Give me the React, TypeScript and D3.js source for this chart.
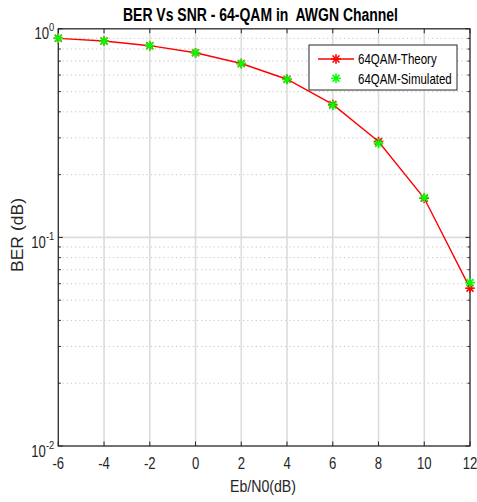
import React from "react";
import * as d3 from "d3";

const snr = [-6, -4, -2, 0, 2, 4, 6, 8, 10, 12];
const theory = [0.9, 0.874, 0.83, 0.768, 0.682, 0.573, 0.434, 0.288, 0.154, 0.0571];
const simulated = [0.901, 0.873, 0.829, 0.767, 0.68, 0.572, 0.43, 0.282, 0.155, 0.0607];
const xTicks = [-6, -4, -2, 0, 2, 4, 6, 8, 10, 12];
const yTicks = [0.01, 0.1, 1];
const yTickExp = ["-2", "-1", "0"];
const seriesNames = ["64QAM-Theory", "64QAM-Simulated"];

const W = 477, H = 502;
const L = 58.3, R = 470, T = 28.8, B = 446;
const FONT = "'Liberation Sans', Arial, Helvetica, sans-serif";
const AX = "#262626";

function Star({ x, y, color, r = 4.8, sw = 1.6 }: { x: number; y: number; color: string; r?: number; sw?: number }) {
  const d = r * 0.72;
  return (
    <g stroke={color} strokeWidth={sw}>
      <line x1={x - r} y1={y} x2={x + r} y2={y} />
      <line x1={x} y1={y - r} x2={x} y2={y + r} />
      <line x1={x - d} y1={y - d} x2={x + d} y2={y + d} />
      <line x1={x - d} y1={y + d} x2={x + d} y2={y - d} />
    </g>
  );
}

export default function App() {
  const x = d3.scaleLinear().domain([-6, 12]).range([L, R]);
  const y = d3.scaleLog().domain([0.01, 1]).range([B, T]);
  const minors: number[] = [];
  [0.01, 0.1].forEach((dec) => {
    for (let k = 2; k <= 9; k++) minors.push(dec * k);
  });
  const line = d3
    .line<number>()
    .x((_, i) => x(snr[i]))
    .y((d) => y(d));
  const sx = 0.82;

  return (
    <svg width={W} height={H} style={{ position: "absolute", left: 0, top: 0, background: "#fff" }}>
      <rect x={0} y={0} width={W} height={H} fill="#fff" />
      {minors.map((v, i) => (
        <line key={"mg" + i} x1={L} x2={R} y1={y(v)} y2={y(v)} stroke="#c4c4c4" strokeWidth={1} strokeDasharray="1.2,3" />
      ))}
      {xTicks.map((t, i) => (
        <line key={"vg" + i} x1={x(t)} x2={x(t)} y1={T} y2={B} stroke="#dcdcdc" strokeWidth={1.6} />
      ))}
      {yTicks.map((t, i) => (
        <line key={"hg" + i} x1={L} x2={R} y1={y(t)} y2={y(t)} stroke="#dcdcdc" strokeWidth={1.6} />
      ))}
      <rect x={L} y={T} width={R - L} height={B - T} fill="none" stroke={AX} strokeWidth={1.2} />
      {xTicks.map((t, i) => (
        <g key={"xt" + i} stroke={AX} strokeWidth={1}>
          <line x1={x(t)} x2={x(t)} y1={B} y2={B - 4.5} />
          <line x1={x(t)} x2={x(t)} y1={T} y2={T + 4.5} />
        </g>
      ))}
      {yTicks.map((t, i) => (
        <g key={"yt" + i} stroke={AX} strokeWidth={1}>
          <line x1={L} x2={L + 4.5} y1={y(t)} y2={y(t)} />
          <line x1={R} x2={R - 4.5} y1={y(t)} y2={y(t)} />
        </g>
      ))}
      {minors.map((v, i) => (
        <g key={"ymt" + i} stroke={AX} strokeWidth={1}>
          <line x1={L} x2={L + 2.5} y1={y(v)} y2={y(v)} />
          <line x1={R} x2={R - 2.5} y1={y(v)} y2={y(v)} />
        </g>
      ))}
      {xTicks.map((t, i) => (
        <g key={"xl" + i} transform={`translate(${x(t)},469) scale(${sx},1)`}>
          <text textAnchor="middle" fontFamily={FONT} fontSize={16} fill={AX}>
            {t}
          </text>
        </g>
      ))}
      {yTicks.map((t, i) => (
        <g key={"yl" + i} transform={`translate(${L - 4},${y(t) + 10.5}) scale(${sx},1)`}>
          <text textAnchor="end" fontFamily={FONT} fontSize={16} fill={AX}>
            10
            <tspan fontSize={11.5} dy={-8}>
              {yTickExp[i]}
            </tspan>
          </text>
        </g>
      ))}
      <text x={123} y={20.7} fontFamily={FONT} fontWeight="bold" fontSize={18} fill="#000" textLength={275} lengthAdjust="spacingAndGlyphs" xmlSpace="preserve">
        {"BER Vs SNR - 64-QAM in  AWGN Channel"}
      </text>
      <text x={230} y={492} fontFamily={FONT} fontSize={16} fill={AX} textLength={66} lengthAdjust="spacingAndGlyphs">
        Eb/N0(dB)
      </text>
      <g transform={`translate(23.3,${235 + 37}) rotate(-90)`}>
        <text x={0} y={0} fontFamily={FONT} fontSize={16} fill={AX} textLength={74} lengthAdjust="spacingAndGlyphs">
          BER (dB)
        </text>
      </g>
      <path d={line(theory) || ""} fill="none" stroke="#ff0000" strokeWidth={1.4} />
      {theory.map((v, i) => (
        <Star key={"th" + i} x={x(snr[i])} y={y(v)} color="#ff0000" />
      ))}
      {simulated.map((v, i) => (
        <Star key={"sm" + i} x={x(snr[i])} y={y(v)} color="#00ff00" />
      ))}
      <rect x={309} y={45} width={148} height={45} fill="#fff" stroke={AX} strokeWidth={1} />
      <line x1={318} x2={354} y1={59} y2={59} stroke="#ff0000" strokeWidth={1.4} />
      <Star x={336} y={59} color="#ff0000" />
      <Star x={336} y={78.3} color="#00ff00" />
      <text x={358} y={64.3} fontFamily={FONT} fontSize={14.5} fill="#000" textLength={78.7} lengthAdjust="spacingAndGlyphs">
        {seriesNames[0]}
      </text>
      <text x={358} y={84.3} fontFamily={FONT} fontSize={14.5} fill="#000" textLength={93.7} lengthAdjust="spacingAndGlyphs">
        {seriesNames[1]}
      </text>
    </svg>
  );
}
